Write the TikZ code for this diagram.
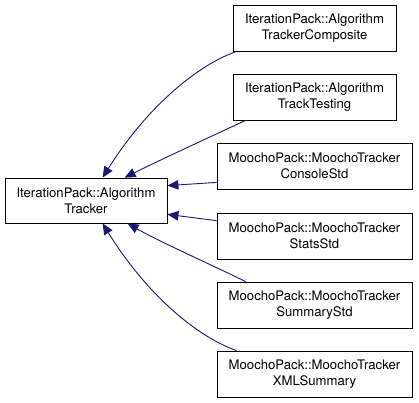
\documentclass[tikz,border=0pt]{standalone}
\usepackage{fontspec}
\setmainfont{TeX Gyre Heros}
\usetikzlibrary{arrows.meta}
\definecolor{edgeblue}{HTML}{191970}
\tikzset{
  cls/.style={draw=black, line width=0.8bp, fill=white, inner sep=0pt, align=center,
    minimum height=46bp, font=\fontsize{13.2}{16}\selectfont},
  itbox/.style={cls, minimum width=163bp},
  mobox/.style={cls, minimum width=195bp},
  edge/.style={draw=edgeblue, line width=0.9bp, {Triangle[length=11bp,width=9.5bp]}-}
}
\begin{document}
\begin{tikzpicture}[x=1bp,y=-1bp]
\useasboundingbox (0,0) rectangle (419,403);
\node[cls, minimum width=162bp, minimum height=45bp] (L) at (86,200.5) {IterationPack::Algorithm\\Tracker};
\node[itbox] (C1) at (314.5,28) {IterationPack::Algorithm\\TrackerComposite};
\node[itbox] (C2) at (314.5,97) {IterationPack::Algorithm\\TrackTesting};
\node[mobox] (M1) at (314.5,166) {MoochoPack::MoochoTracker\\ConsoleStd};
\node[mobox] (M2) at (314.5,236) {MoochoPack::MoochoTracker\\StatsStd};
\node[mobox] (M3) at (314.5,305) {MoochoPack::MoochoTracker\\SummaryStd};
\node[mobox] (M4) at (314.5,374) {MoochoPack::MoochoTracker\\XMLSummary};

\draw[edge] ([xshift=98bp]L.north west) .. controls (145,110) and (195,66) .. ([xshift=4bp]C1.south west);
\draw[edge] ([xshift=120bp]L.north west) .. controls (160,160) and (212,136) .. ([xshift=13bp]C2.south west);
\draw[edge] ([yshift=-8bp]L.north east) -- ([yshift=7bp]M1.south west);
\draw[edge] ([yshift=9bp]L.south east) -- ([yshift=-8bp]M2.north west);
\draw[edge] ([xshift=123bp]L.south west) .. controls (160,242) and (210,264) .. ([xshift=29bp]M3.north west);
\draw[edge] ([xshift=98bp]L.south west) .. controls (145,292) and (195,336) .. ([xshift=20bp]M4.north west);
\end{tikzpicture}
\end{document}
